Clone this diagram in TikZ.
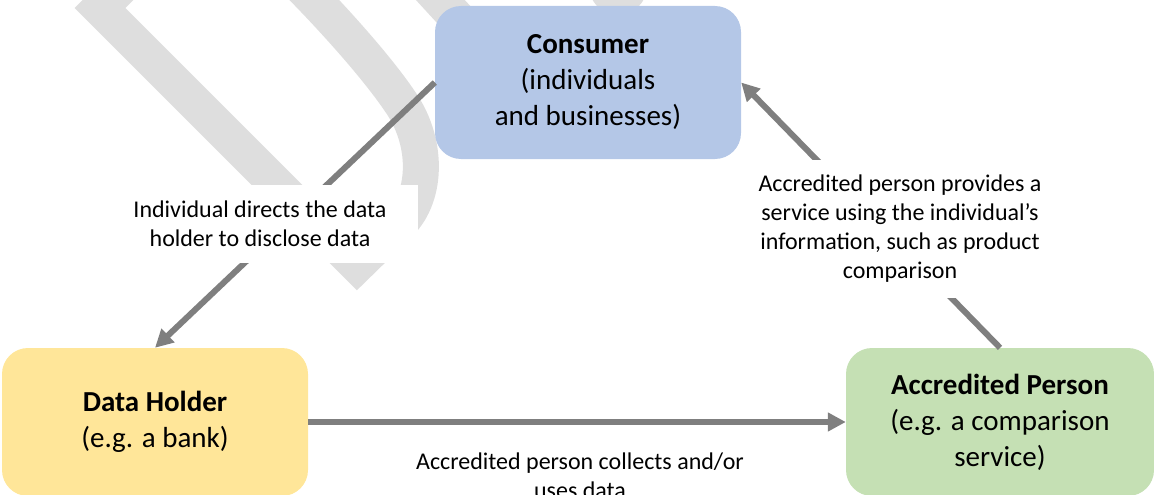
\documentclass[tikz,border=0pt]{standalone}
\usepackage{fontspec}
\setmainfont{Carlito}
\usetikzlibrary{arrows.meta}

\definecolor{consumerblue}{HTML}{B4C7E7}
\definecolor{holderyellow}{HTML}{FFE699}
\definecolor{persongreen}{HTML}{C5E0B4}
\definecolor{flowgray}{HTML}{7F7F7F}
\definecolor{logogray}{HTML}{DEDEDE}

\begin{document}
\begin{tikzpicture}[x=1pt, y=-1pt,
        party/.style = {rounded corners=26pt, minimum width=306pt, minimum height=148pt, align=center, font=\fontsize{29}{36}\selectfont},
        note/.style = {fill=white, align=center, inner sep=0pt, font=\fontsize{24}{29}\selectfont},
        flow/.style = {-{Triangle[length=18pt, width=18pt]}, line width=6pt, flowgray},
        logo/.style = {draw=logogray, line width=36pt}]
        \useasboundingbox (0,0) rectangle (1154,495);
        \clip (0,0) rectangle (1154,495);

        % watermark behind everything
        \draw[logo] (130,-22) -- (100,8) -- (357,265) -- (400,223) .. controls (428,195) and (428,140) .. (399,100) .. controls (380,72) and (340,25) .. (290,-25);
        \draw[logo] (422,-20) -- (500,65);
        \draw[logo, line cap=round, line width=58pt] (640,-60) -- (618,-14);

        \node[party, fill=consumerblue, minimum height=153pt] (c) at (588,82.5) {\textbf{Consumer}\\(individuals\\and businesses)};
        \node[party, fill=holderyellow] (h) at (155,422) {\textbf{Data Holder}\\(e.g. a bank)};
        \node[party, fill=persongreen, minimum width=308pt] (p) at (1000,422) {\textbf{Accredited Person}\\(e.g. a comparison\\service)};

        \draw[flow] (c.west) -- (h.north);
        \draw[flow] (h.east) -- (p.west);
        \draw[flow] (p.north) -- (c.east);

        \node[note, minimum width=315pt, minimum height=78pt] (ch) at (260,224) {Individual directs the data\\holder to disclose data};
        \node[note, minimum width=300pt, minimum height=138pt] (pc) at (900,229) {Accredited person provides a\\service using the individual’s\\information, such as product\\comparison};
        \node[note] (hp) at (580,476) {Accredited person collects and/or\\uses data};
\end{tikzpicture}
\end{document}
